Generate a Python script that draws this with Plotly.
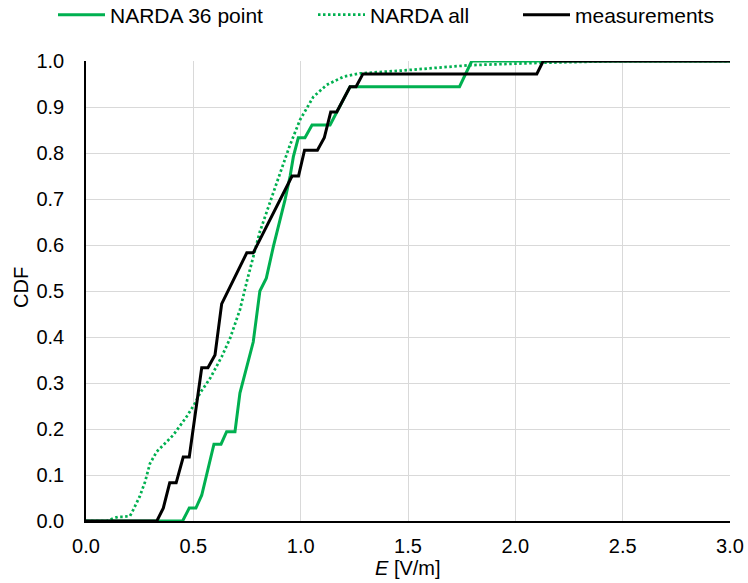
import plotly.graph_objects as go

# NARDA 36 point (green solid)
narda36_E = [0.0, 0.45, 0.481, 0.512, 0.539, 0.596, 0.629, 0.655, 0.694, 0.717, 0.779, 0.81,
             0.84, 0.873, 0.927, 0.951, 0.966, 0.989, 1.02, 1.053, 1.137, 1.168, 1.23, 1.74, 1.797, 3.0]
narda36_cdf = [0.0, 0.0, 0.028, 0.028, 0.056, 0.167, 0.167, 0.194, 0.194, 0.278, 0.389, 0.5,
               0.528, 0.597, 0.698, 0.75, 0.792, 0.833, 0.833, 0.861, 0.861, 0.889, 0.944, 0.944, 1.0, 1.0]

# NARDA all (green dotted)
nardaall_E = [0.0, 0.1, 0.127, 0.15, 0.172, 0.205, 0.22, 0.25, 0.275, 0.298, 0.33, 0.407, 0.469,
              0.508, 0.531, 0.578, 0.632, 0.671, 0.717, 0.751, 0.81, 0.857, 0.904, 0.95, 0.997,
              1.059, 1.121, 1.2, 1.276, 1.494, 1.789, 2.115, 2.5, 3.0]
nardaall_cdf = [0.0, 0.0, 0.006, 0.009, 0.009, 0.011, 0.024, 0.053, 0.085, 0.125, 0.151, 0.187, 0.227,
                0.256, 0.278, 0.31, 0.357, 0.397, 0.459, 0.524, 0.629, 0.694, 0.756, 0.817, 0.872,
                0.922, 0.948, 0.966, 0.973, 0.98, 0.991, 0.996, 1.0, 1.0]

# measurements (black)
meas_E = [0.0, 0.33, 0.36, 0.39, 0.42, 0.453, 0.481, 0.539, 0.568, 0.601, 0.632, 0.749, 0.779,
          0.96, 0.99, 1.018, 1.078, 1.11, 1.14, 1.168, 1.23, 1.258, 1.29, 2.1, 2.13, 3.0]
meas_cdf = [0.0, 0.0, 0.028, 0.083, 0.083, 0.139, 0.139, 0.333, 0.333, 0.361, 0.472, 0.583, 0.583,
            0.75, 0.75, 0.806, 0.806, 0.833, 0.889, 0.889, 0.944, 0.944, 0.972, 0.972, 1.0, 1.0]

x_ticks = [0.0, 0.5, 1.0, 1.5, 2.0, 2.5, 3.0]
y_ticks = [0.0, 0.1, 0.2, 0.3, 0.4, 0.5, 0.6, 0.7, 0.8, 0.9, 1.0]
x_title = "<i>E</i> [V/m]"
y_title = "CDF"

GREEN = "#00B050"
FONT = "Liberation Sans, Arial, sans-serif"
W, H = 748, 583

fig = go.Figure()
fig.add_trace(go.Scatter(x=narda36_E, y=narda36_cdf, mode="lines", name="NARDA 36 point",
                         line=dict(color=GREEN, width=3), legend="legend"))
fig.add_trace(go.Scatter(x=nardaall_E, y=nardaall_cdf, mode="lines", name="NARDA all",
                         line=dict(color=GREEN, width=2.75, dash="2.5px,2.5px"), legend="legend2"))
fig.add_trace(go.Scatter(x=meas_E, y=meas_cdf, mode="lines", name="measurements",
                         line=dict(color="black", width=3), legend="legend3"))

def leg(px):
    return dict(xref="container", yref="container", x=px / W, y=1 - 15 / H,
                xanchor="left", yanchor="middle", orientation="h", itemwidth=47,
                font=dict(family=FONT, size=21, color="black"),
                bgcolor="rgba(0,0,0,0)", borderwidth=0)

fig.update_layout(
    width=W, height=H,
    margin=dict(l=86, r=18, t=61, b=62),
    paper_bgcolor="white", plot_bgcolor="white",
    font=dict(family=FONT, size=20, color="black"),
    showlegend=True,
    legend=leg(53), legend2=leg(313), legend3=leg(518),
    xaxis=dict(range=[0, 3.0], tickvals=x_ticks, ticktext=[f"{v:.1f}" for v in x_ticks],
               showgrid=True, gridcolor="#d9d9d9", gridwidth=1.3,
               showline=True, linecolor="black", linewidth=1.5, zeroline=False,
               ticks="", ticklabelstandoff=6, automargin=False),
    yaxis=dict(range=[0, 1.0], tickvals=y_ticks, ticktext=[f"{v:.1f}" for v in y_ticks],
               showgrid=True, gridcolor="#d9d9d9", gridwidth=1.3,
               showline=True, linecolor="black", linewidth=1.5, zeroline=False,
               ticks="", ticklabelstandoff=16, automargin=False),
    annotations=[
        dict(text=x_title, xref="paper", yref="paper", x=0.5, y=-(568 - 521) / 460,
             xanchor="center", yanchor="middle", showarrow=False, font=dict(size=20)),
        dict(text=y_title, xref="paper", yref="paper", x=(21 - 86) / 644, y=(521 - 288) / 460,
             xanchor="center", yanchor="middle", textangle=-90, showarrow=False, font=dict(size=20)),
    ],
)

fig.write_html("out.html")
